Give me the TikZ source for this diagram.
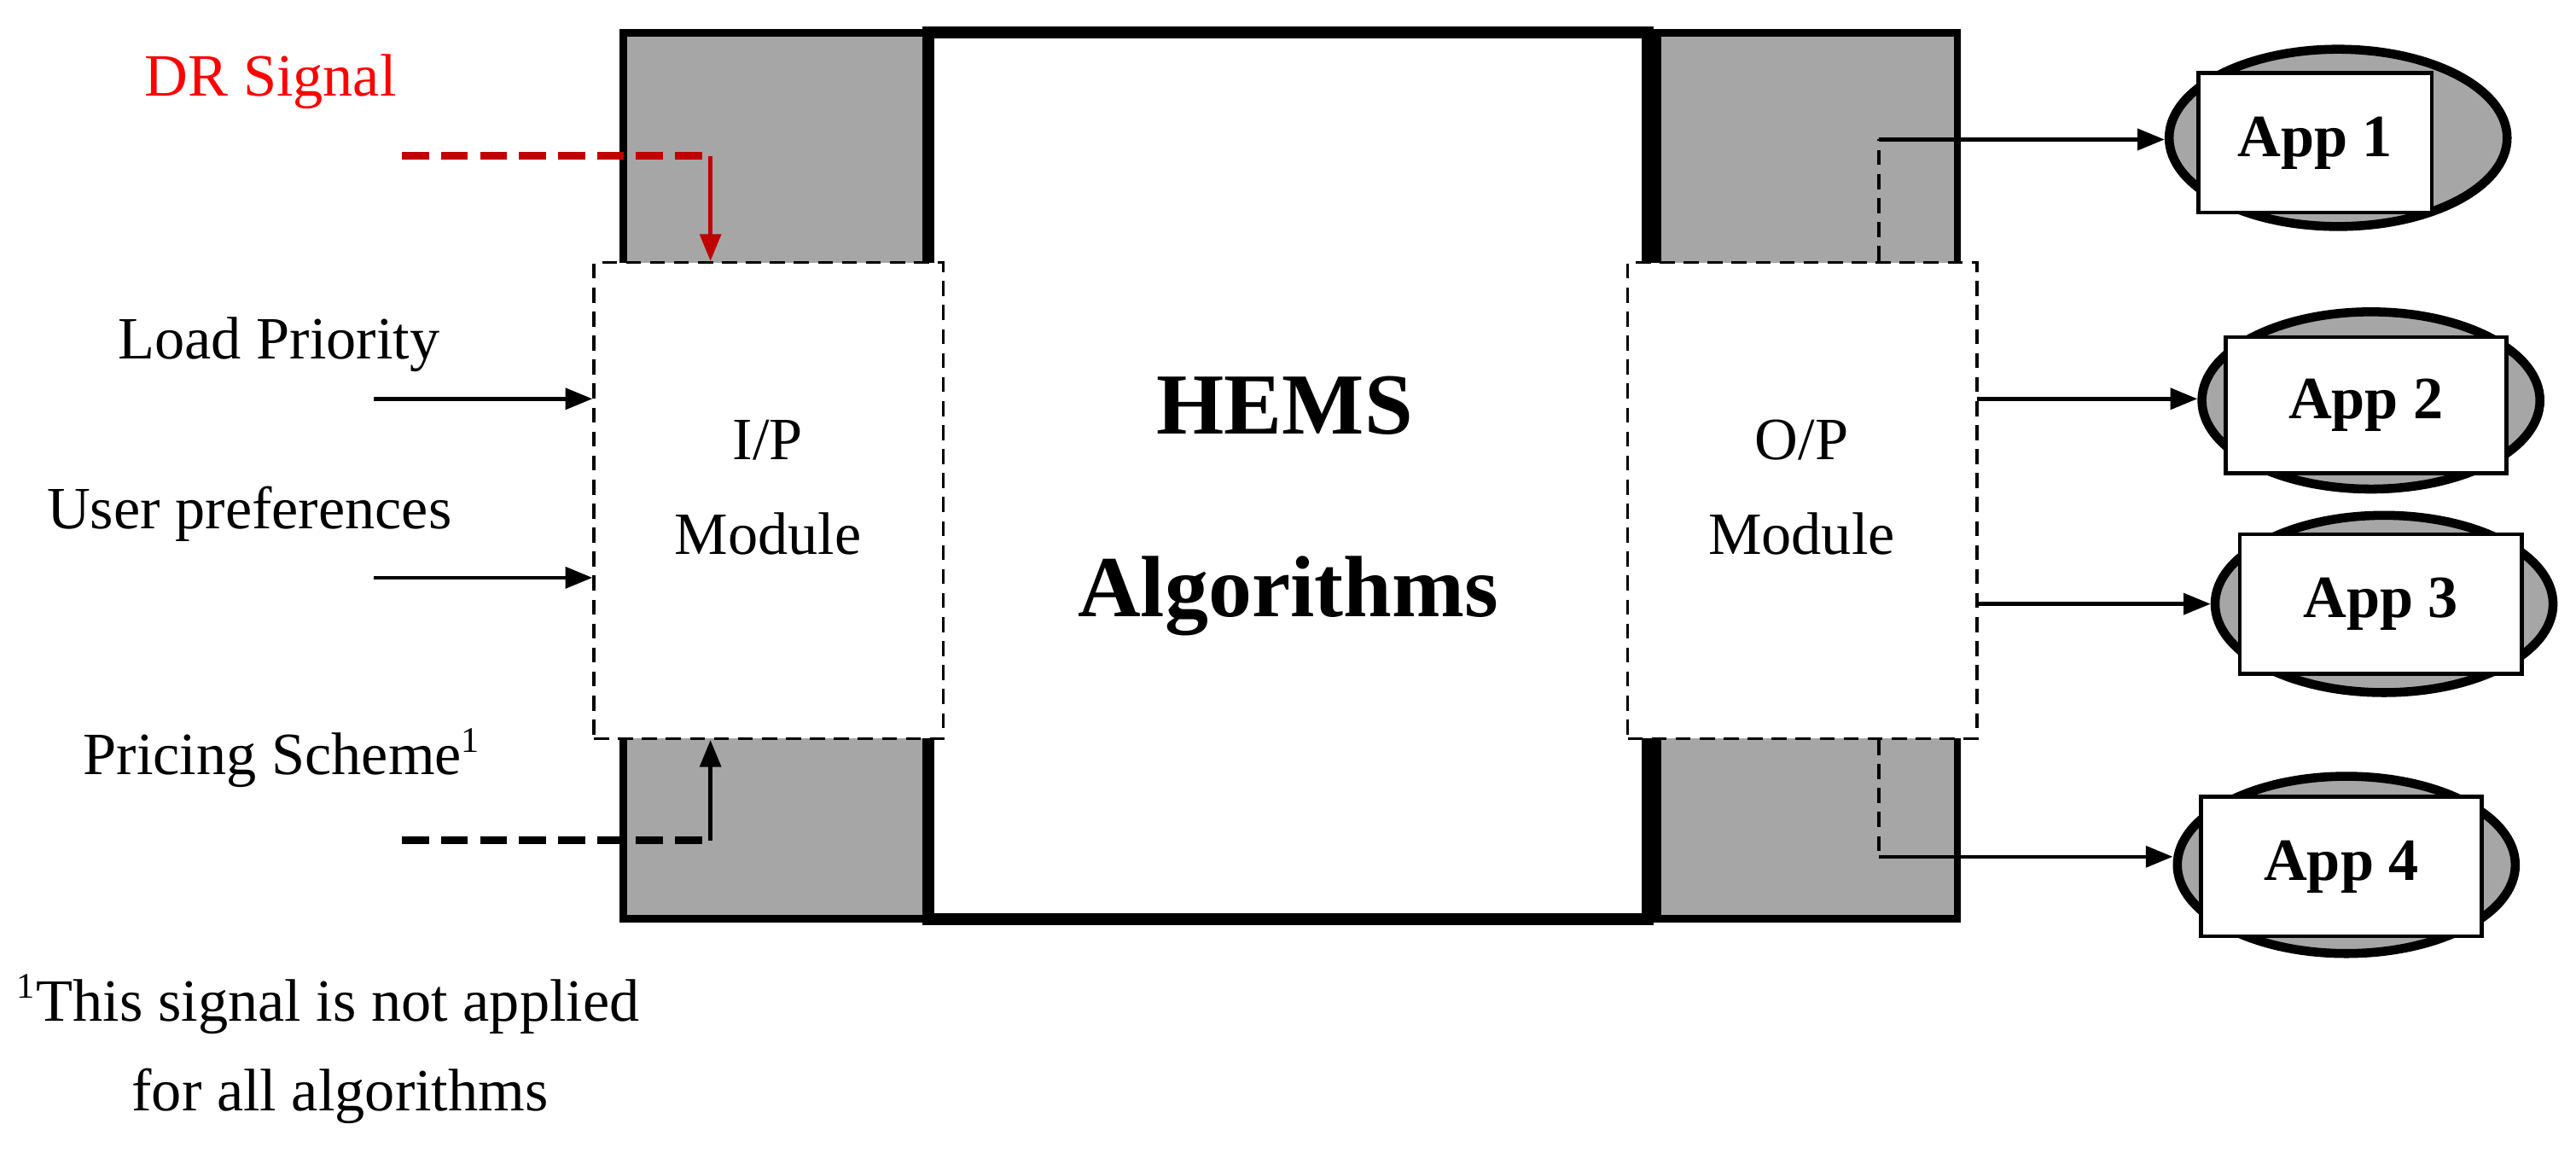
\documentclass[tikz,border=0pt]{standalone}
\usepackage{fontspec}
\setmainfont{Liberation Serif}
\usetikzlibrary{arrows.meta,shapes.geometric}
\definecolor{grayfill}{RGB}{166,166,166}
\definecolor{drred}{RGB}{192,0,0}
\begin{document}
\begin{tikzpicture}[x=0.01923cm,y=-0.01923cm,
  lbl/.style={font=\fontsize{20}{24}\selectfont, inner sep=0},
  gbox/.style={fill=grayfill, draw=black, line width=2.5pt},
  dbox/.style={draw=black, fill=white, line width=1pt, dash pattern=on 5pt off 3pt},
  arr/.style={line width=1.3pt, -{Triangle[length=9pt,width=7pt]}},
  appell/.style={ellipse, draw=black, fill=grayfill, line width=3pt, inner sep=0},
  appbox/.style={draw=black, fill=white, line width=1.3pt, font=\bfseries\fontsize{20}{24}\selectfont, inner sep=0}
]
\useasboundingbox (0,0) rectangle (1570,706);
% gray side blocks
\path[gbox] (380,20) rectangle (565,560);
\path[gbox] (1010,20) rectangle (1193,560);
% central block
\draw[line width=4pt, fill=white] (566,20) rectangle (1004,560);
% dashed modules
\node[dbox, minimum width=213*0.01923cm, minimum height=290*0.01923cm, inner sep=0] (ip) at (468.5,305) {};
\node[dbox, minimum width=213*0.01923cm, minimum height=290*0.01923cm, inner sep=0] (op) at (1098.5,305) {};
\node[lbl] (ipt) at (468,268) {I/P};
\node[lbl] (ipm) at (468,325) {Module};
\node[lbl] (opt) at (1098,268) {O/P};
\node[lbl] (opm) at (1098,325) {Module};
\node[font=\bfseries\fontsize{29}{34}\selectfont, inner sep=0] (hems) at (783,247) {HEMS};
\node[font=\bfseries\fontsize{29}{34}\selectfont, inner sep=0] (alg) at (785,363) {Algorithms};
% left inputs
\node[lbl, text=red] (dr) at (165,50) {DR Signal};
\node[lbl] (lp) at (170,210) {Load Priority};
\node[lbl] (up) at (152,313) {User preferences};
\node[lbl] (ps) at (172,462) {Pricing Scheme\textsuperscript{\fontsize{12}{12}\selectfont 1}};
\coordinate (drs) at (245,95); \coordinate (drc) at (433,95);
\coordinate (pss) at (245,512); \coordinate (psc) at (433,512);
\draw[drred, line width=2.5pt, dash pattern=on 9pt off 4pt] (drs) -- (drc);
\draw[drred, arr] (drc) -- (ip.north -| drc);
\draw[black, line width=2.5pt, dash pattern=on 9pt off 4pt] (pss) -- (psc);
\draw[arr] (psc) -- (ip.south -| psc);
\coordinate (lps) at (228,243); \coordinate (ups) at (228,352);
\draw[arr] (lps) -- (ip.west |- lps);
\draw[arr] (ups) -- (ip.west |- ups);
% footnote
\node[lbl, anchor=west] (fn1) at (10,612) {\textsuperscript{\fontsize{12}{12}\selectfont 1}This signal is not applied};
\node[lbl, anchor=west] (fn2) at (80,668) {for all algorithms};
% apps
\node[appell, minimum width=206*0.01923cm, minimum height=108*0.01923cm] (e1) at (1425,84) {};
\node[appbox, minimum width=142*0.01923cm, minimum height=85*0.01923cm] (a1) at (1411,87) {App 1};
\node[appell, minimum width=206*0.01923cm, minimum height=108*0.01923cm] (e2) at (1445,244) {};
\node[appbox, minimum width=171*0.01923cm, minimum height=83*0.01923cm] (a2) at (1442,247) {App 2};
\node[appell, minimum width=206*0.01923cm, minimum height=108*0.01923cm] (e3) at (1453,368) {};
\node[appbox, minimum width=172*0.01923cm, minimum height=85*0.01923cm] (a3) at (1451,368) {App 3};
\node[appell, minimum width=206*0.01923cm, minimum height=108*0.01923cm] (e4) at (1430,527) {};
\node[appbox, minimum width=171*0.01923cm, minimum height=85*0.01923cm] (a4) at (1427,528) {App 4};
% outputs
\coordinate (o1) at (1145,85); \coordinate (o4) at (1145,522);
\draw[line width=1pt, dash pattern=on 5pt off 3pt] (op.north -| o1) -- (o1);
\draw[line width=1pt, dash pattern=on 5pt off 3pt] (op.south -| o4) -- (o4);
\draw[arr] (o1) -- (e1.west |- o1);
\draw[arr] (o4) -- (e4.west |- o4);
\coordinate (o2) at (1205,243); \coordinate (o3) at (1205,368);
\draw[arr] (o2) -- (e2.west |- o2);
\draw[arr] (o3) -- (e3.west |- o3);
\end{tikzpicture}
\end{document}
